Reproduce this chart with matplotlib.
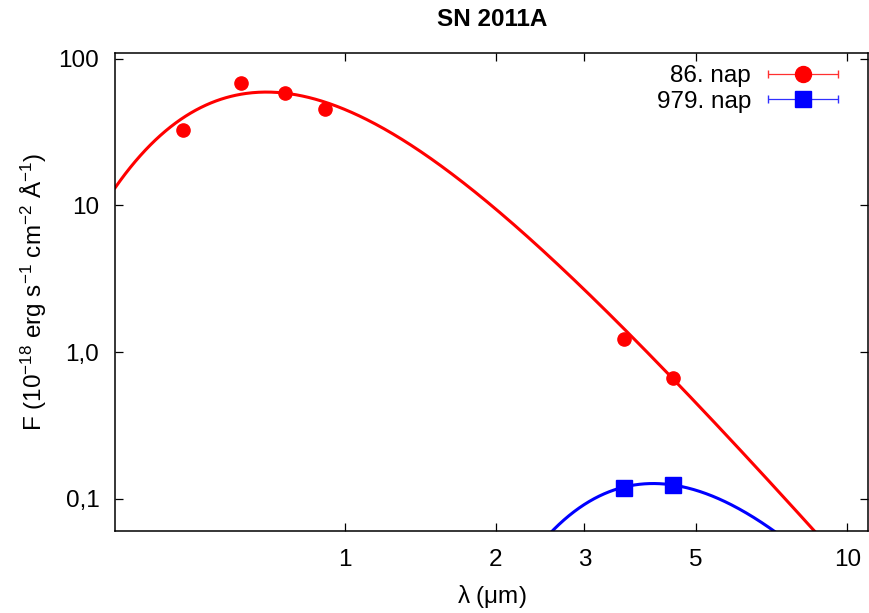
import numpy as np
import matplotlib
matplotlib.use("Agg")
import matplotlib.pyplot as plt
from matplotlib.legend_handler import HandlerErrorbar

plt.rcParams['font.family'] = ['Liberation Sans', 'DejaVu Sans']
plt.rcParams['mathtext.fontset'] = 'custom'
plt.rcParams['mathtext.rm'] = 'Liberation Sans'
plt.rcParams['mathtext.it'] = 'Liberation Sans'

# photometry (wavelength in micron, flux in 1e-18 erg/s/cm2/A)
wl_day86 = [0.477, 0.623, 0.762, 0.913, 3.59, 4.49]
flux_day86 = [32.7, 67.9, 58.3, 45.4, 1.23, 0.664]
wl_day979 = [3.59, 4.49]
flux_day979 = [0.119, 0.1245]

# blackbody fit parameters: temperature (K), peak flux, emissivity index
fit_day86 = dict(T=4146.0, peak=59.3, beta=0.0)
fit_day979 = dict(T=585.0, peak=0.127, beta=1.0)

xticks = [1, 2, 3, 5, 10]
xticklabels = ['1', '2', '3', '5', '10']
yticks = [0.1, 1, 10, 100]
yticklabels = ['0,1', '1,0', '10', '100']

FS = 17.5


def bb(lam, T, peak, beta):
    c2 = 14388.0  # hc/k in micron K
    f = lam ** -(5 + beta) / (np.exp(c2 / (lam * T)) - 1)
    grid = np.logspace(-1, 2, 3000)
    fg = grid ** -(5 + beta) / (np.exp(c2 / (grid * T)) - 1)
    return peak * f / fg.max()


fig = plt.figure(figsize=(8.7, 6.13), dpi=100)
ax = fig.add_axes([0.1325, 0.1333, 0.8655, 0.7807])

lam = np.logspace(np.log10(0.35), np.log10(11), 600)
ax.plot(lam, bb(lam, **fit_day86), color='red', lw=2.2, zorder=2)
ax.plot(lam, bb(lam, **fit_day979), color='blue', lw=2.2, zorder=2)

ax.plot(wl_day86, flux_day86, 'o', color='red', ms=9.5, zorder=3)
ax.plot(wl_day979, flux_day979, 's', color='blue', ms=11.5, zorder=3)

# legend entries in the errorbar style
h1 = ax.errorbar([np.nan], [np.nan], xerr=[0], fmt='o', color='red', ms=11.5,
                 elinewidth=0.9, capsize=3, ecolor='#ff3030', label='86. nap')
h2 = ax.errorbar([np.nan], [np.nan], xerr=[0], fmt='s', color='blue', ms=11.5,
                 elinewidth=0.9, capsize=3, ecolor='#3030ff', label='979. nap')

ax.set_xscale('log')
ax.set_yscale('log')
ax.set_xlim(0.35, 11)
ax.set_ylim(0.06, 110)
ax.set_xticks(xticks)
ax.set_xticklabels(xticklabels)
ax.set_yticks(yticks)
ax.set_yticklabels(yticklabels)
ax.minorticks_off()
ax.tick_params(which='both', direction='in', top=True, right=True,
               length=6, width=0.9, labelsize=FS)
ax.tick_params(axis='x', pad=12.5)
ax.tick_params(axis='y', pad=11.5)
for s in ax.spines.values():
    s.set_linewidth(1.1)

ax.set_xlabel(r'$\lambda$ ($\mu$m)', fontsize=FS, labelpad=8.7)
ax.set_ylabel(r'F (10$^{-18}$ erg s$^{-1}$ cm$^{-2}$ $\mathrm{\AA}^{-1}$)', fontsize=FS, labelpad=7)
ax.set_title('SN 2011A', fontsize=FS, fontweight='bold', pad=19)

hm = HandlerErrorbar(xerr_size=1.45)
ax.legend(handles=[h1, h2], loc='upper right', frameon=False, fontsize=FS,
          markerfirst=False, handlelength=2.9, handletextpad=0.7,
          labelspacing=0.14, borderaxespad=0.3, bbox_to_anchor=(0.983, 1.009),
          handler_map={type(h1): hm})

fig.savefig('out.png', dpi=100)
